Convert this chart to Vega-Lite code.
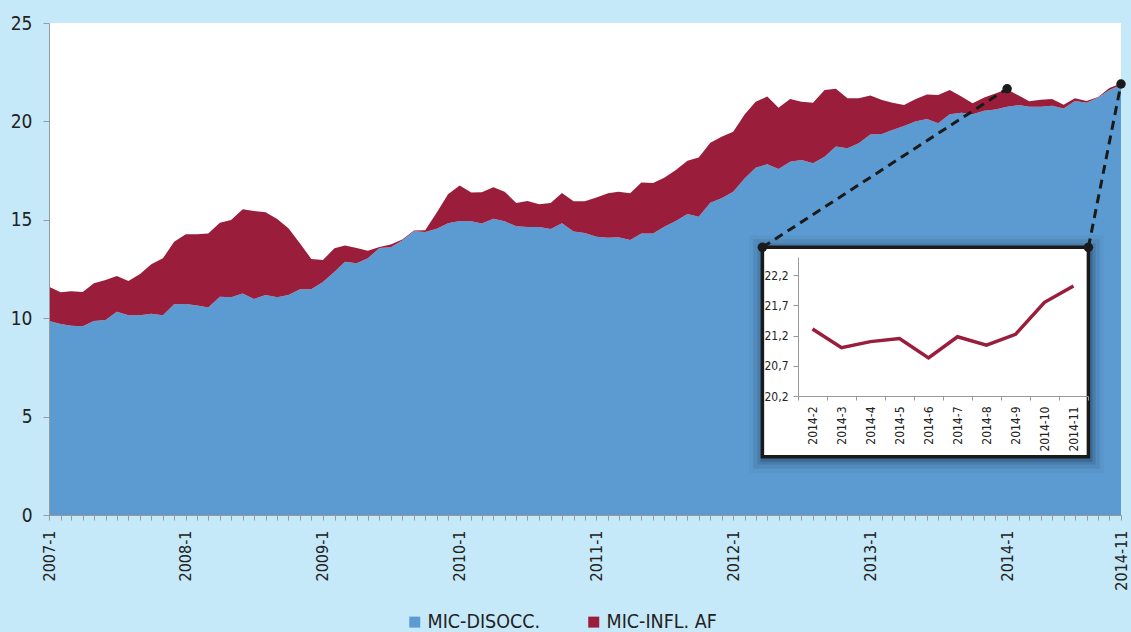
{
  "$schema": "https://vega.github.io/schema/vega-lite/v6.json",
  "width": 1072,
  "height": 492,
  "autosize": "none",
  "padding": {"left": 49, "top": 23, "right": 10, "bottom": 117},
  "background": "#c6e9f9",
  "config": {"view": {"fill": "#ffffff", "stroke": null}, "font": "'DejaVu Sans Condensed', 'Liberation Sans', sans-serif"},
  "layer": [
    {
      "data": {"values": [
        {"m":"2007-01-01","d":9.86,"f":1.74},{"m":"2007-02-01","d":9.7,"f":1.62},{"m":"2007-03-01","d":9.62,"f":1.75},{"m":"2007-04-01","d":9.59,"f":1.74},
        {"m":"2007-05-01","d":9.86,"f":1.91},{"m":"2007-06-01","d":9.91,"f":2.03},{"m":"2007-07-01","d":10.33,"f":1.81},{"m":"2007-08-01","d":10.15,"f":1.74},
        {"m":"2007-09-01","d":10.15,"f":2.1},{"m":"2007-10-01","d":10.23,"f":2.51},{"m":"2007-11-01","d":10.15,"f":2.89},{"m":"2007-12-01","d":10.71,"f":3.18},
        {"m":"2008-01-01","d":10.72,"f":3.54},{"m":"2008-02-01","d":10.65,"f":3.61},{"m":"2008-03-01","d":10.55,"f":3.76},{"m":"2008-04-01","d":11.09,"f":3.76},
        {"m":"2008-05-01","d":11.06,"f":3.93},{"m":"2008-06-01","d":11.26,"f":4.27},{"m":"2008-07-01","d":10.98,"f":4.47},{"m":"2008-08-01","d":11.18,"f":4.2},
        {"m":"2008-09-01","d":11.06,"f":3.98},{"m":"2008-10-01","d":11.18,"f":3.39},{"m":"2008-11-01","d":11.47,"f":2.33},{"m":"2008-12-01","d":11.47,"f":1.54},
        {"m":"2009-01-01","d":11.84,"f":1.12},{"m":"2009-02-01","d":12.36,"f":1.19},{"m":"2009-03-01","d":12.87,"f":0.83},{"m":"2009-04-01","d":12.79,"f":0.78},
        {"m":"2009-05-01","d":13.04,"f":0.39},{"m":"2009-06-01","d":13.57,"f":0.05},{"m":"2009-07-01","d":13.6,"f":0.15},{"m":"2009-08-01","d":13.95,"f":0.05},
        {"m":"2009-09-01","d":14.42,"f":0.03},{"m":"2009-10-01","d":14.38,"f":0.09},{"m":"2009-11-01","d":14.55,"f":0.82},{"m":"2009-12-01","d":14.82,"f":1.48},
        {"m":"2010-01-01","d":14.94,"f":1.8},{"m":"2010-02-01","d":14.93,"f":1.46},{"m":"2010-03-01","d":14.81,"f":1.59},{"m":"2010-04-01","d":15.05,"f":1.6},
        {"m":"2010-05-01","d":14.92,"f":1.51},{"m":"2010-06-01","d":14.67,"f":1.19},{"m":"2010-07-01","d":14.64,"f":1.32},{"m":"2010-08-01","d":14.63,"f":1.16},
        {"m":"2010-09-01","d":14.53,"f":1.32},{"m":"2010-10-01","d":14.82,"f":1.54},{"m":"2010-11-01","d":14.41,"f":1.53},{"m":"2010-12-01","d":14.33,"f":1.61},
        {"m":"2011-01-01","d":14.14,"f":1.99},{"m":"2011-02-01","d":14.09,"f":2.26},{"m":"2011-03-01","d":14.11,"f":2.32},{"m":"2011-04-01","d":13.97,"f":2.38},
        {"m":"2011-05-01","d":14.31,"f":2.58},{"m":"2011-06-01","d":14.3,"f":2.57},{"m":"2011-07-01","d":14.65,"f":2.49},{"m":"2011-08-01","d":14.94,"f":2.59},
        {"m":"2011-09-01","d":15.29,"f":2.71},{"m":"2011-10-01","d":15.16,"f":3.01},{"m":"2011-11-01","d":15.87,"f":3.05},{"m":"2011-12-01","d":16.09,"f":3.13},
        {"m":"2012-01-01","d":16.43,"f":3.05},{"m":"2012-02-01","d":17.11,"f":3.25},{"m":"2012-03-01","d":17.65,"f":3.35},{"m":"2012-04-01","d":17.82,"f":3.44},
        {"m":"2012-05-01","d":17.58,"f":3.11},{"m":"2012-06-01","d":17.95,"f":3.19},{"m":"2012-07-01","d":18.04,"f":2.96},{"m":"2012-08-01","d":17.87,"f":3.08},
        {"m":"2012-09-01","d":18.21,"f":3.39},{"m":"2012-10-01","d":18.72,"f":2.94},{"m":"2012-11-01","d":18.63,"f":2.54},{"m":"2012-12-01","d":18.89,"f":2.28},
        {"m":"2013-01-01","d":19.33,"f":1.99},{"m":"2013-02-01","d":19.36,"f":1.73},{"m":"2013-03-01","d":19.56,"f":1.39},{"m":"2013-04-01","d":19.77,"f":1.06},
        {"m":"2013-05-01","d":19.99,"f":1.13},{"m":"2013-06-01","d":20.12,"f":1.25},{"m":"2013-07-01","d":19.9,"f":1.44},{"m":"2013-08-01","d":20.36,"f":1.24},
        {"m":"2013-09-01","d":20.44,"f":0.82},{"m":"2013-10-01","d":20.36,"f":0.56},{"m":"2013-11-01","d":20.54,"f":0.67},{"m":"2013-12-01","d":20.61,"f":0.81},
        {"m":"2014-01-01","d":20.75,"f":0.89},{"m":"2014-02-01","d":20.83,"f":0.48},{"m":"2014-03-01","d":20.75,"f":0.27},{"m":"2014-04-01","d":20.75,"f":0.35},
        {"m":"2014-05-01","d":20.8,"f":0.34},{"m":"2014-06-01","d":20.66,"f":0.19},{"m":"2014-07-01","d":21.04,"f":0.13},{"m":"2014-08-01","d":20.95,"f":0.09},
        {"m":"2014-09-01","d":21.21,"f":0.03},{"m":"2014-10-01","d":21.6,"f":0.1},{"m":"2014-11-01","d":21.85,"f":0.08}
      ]},
      "transform": [{"fold": ["d", "f"], "as": ["s", "v"]}],
      "mark": {"type": "area", "interpolate": "linear"},
      "encoding": {
        "x": {"field": "m", "type": "temporal", "title": null,
          "scale": {"type": "utc", "nice": false, "domain": [{"year": 2007, "month": 1, "date": 1, "utc": true}, {"year": 2014, "month": 11, "date": 1, "utc": true}]},
          "axis": {"orient": "bottom", "tickCount": {"interval": "month", "step": 1},
            "labelExpr": "(utcmonth(datum.value)==0 || (utcyear(datum.value)==2014 && utcmonth(datum.value)==10)) ? utcFormat(datum.value, '%Y-%-m') : ''",
            "labelAngle": -90, "labelFontSize": 16, "labelColor": "#222222", "labelPadding": 10,
            "tickSize": 5, "tickColor": "#999999", "domainColor": "#999999",
            "labelOverlap": false, "labelFlush": false, "grid": false, "zindex": 1}},
        "y": {"field": "v", "type": "quantitative", "stack": "zero", "title": null,
          "scale": {"domain": [0, 25], "nice": false},
          "axis": {"orient": "left", "values": [0, 5, 10, 15, 20, 25], "labelFontSize": 19, "labelColor": "#222222",
            "labelPadding": 11, "tickSize": 6, "tickColor": "#999999", "domainColor": "#999999",
            "grid": false, "zindex": 1}},
        "color": {"field": "s", "type": "nominal",
          "scale": {"domain": ["d", "f"], "range": ["#5c9bd1", "#9a1d3b"]},
          "legend": {"orient": "none", "legendX": 356, "legendY": 589, "direction": "horizontal",
            "title": null, "symbolType": "square", "symbolSize": 121, "symbolStrokeWidth": 0,
            "labelFontSize": 19.5, "labelColor": "#222222", "labelOffset": 3, "columnPadding": 43,
            "padding": 0,
            "labelExpr": "datum.label == 'd' ? 'MIC-DISOCC.' : 'MIC-INFL. AF'"}},
        "order": {"field": "s", "sort": "ascending"}
      }
    },
    {
      "data": {"values": [{}]},
      "mark": {"type": "rule", "strokeDash": [9, 6], "strokeWidth": 3, "color": "#1a1a1a"},
      "encoding": {
        "x": {"datum": {"year": 2012, "month": 3, "date": 19, "utc": true}, "type": "temporal", "axis": null,
          "scale": {"type": "utc", "nice": false, "domain": [{"year": 2007, "month": 1, "date": 1, "utc": true}, {"year": 2014, "month": 11, "date": 1, "utc": true}]}},
        "y": {"datum": 13.6, "type": "quantitative", "axis": null, "scale": {"domain": [0, 25], "nice": false}},
        "x2": {"datum": {"year": 2014, "month": 1, "date": 1, "utc": true}},
        "y2": {"datum": 21.66}
      }
    },
    {
      "data": {"values": [{}]},
      "mark": {"type": "rule", "strokeDash": [9, 6], "strokeWidth": 3, "color": "#1a1a1a"},
      "encoding": {
        "x": {"datum": {"year": 2014, "month": 8, "date": 6, "utc": true}, "type": "temporal", "axis": null,
          "scale": {"type": "utc", "nice": false, "domain": [{"year": 2007, "month": 1, "date": 1, "utc": true}, {"year": 2014, "month": 11, "date": 1, "utc": true}]}},
        "y": {"datum": 13.6, "type": "quantitative", "axis": null, "scale": {"domain": [0, 25], "nice": false}},
        "x2": {"datum": {"year": 2014, "month": 11, "date": 1, "utc": true}},
        "y2": {"datum": 21.9}
      }
    },
    {
      "data": {"values": [{}]},
      "mark": {"type": "rect", "color": "#10203a", "opacity": 0.05},
      "encoding": {
        "x": {"datum": {"year": 2012, "month": 2, "date": 13, "utc": true}, "type": "temporal", "axis": null,
          "scale": {"type": "utc", "nice": false, "domain": [{"year": 2007, "month": 1, "date": 1, "utc": true}, {"year": 2014, "month": 11, "date": 1, "utc": true}]}},
        "x2": {"datum": {"year": 2014, "month": 9, "date": 15, "utc": true}},
        "y": {"datum": 14.21, "type": "quantitative", "axis": null, "scale": {"domain": [0, 25], "nice": false}},
        "y2": {"datum": 2.14}
      }
    },
    {
      "data": {"values": [{}]},
      "mark": {"type": "rect", "color": "#10203a", "opacity": 0.09},
      "encoding": {
        "x": {"datum": {"year": 2012, "month": 2, "date": 24, "utc": true}, "type": "temporal", "axis": null,
          "scale": {"type": "utc", "nice": false, "domain": [{"year": 2007, "month": 1, "date": 1, "utc": true}, {"year": 2014, "month": 11, "date": 1, "utc": true}]}},
        "x2": {"datum": {"year": 2014, "month": 9, "date": 5, "utc": true}},
        "y": {"datum": 14.01, "type": "quantitative", "axis": null, "scale": {"domain": [0, 25], "nice": false}},
        "y2": {"datum": 2.35}
      }
    },
    {
      "data": {"values": [{}]},
      "mark": {"type": "rect", "color": "#10203a", "opacity": 0.13},
      "encoding": {
        "x": {"datum": {"year": 2012, "month": 3, "date": 6, "utc": true}, "type": "temporal", "axis": null,
          "scale": {"type": "utc", "nice": false, "domain": [{"year": 2007, "month": 1, "date": 1, "utc": true}, {"year": 2014, "month": 11, "date": 1, "utc": true}]}},
        "x2": {"datum": {"year": 2014, "month": 8, "date": 25, "utc": true}},
        "y": {"datum": 13.81, "type": "quantitative", "axis": null, "scale": {"domain": [0, 25], "nice": false}},
        "y2": {"datum": 2.56}
      }
    },
    {
      "data": {"values": [{}]},
      "mark": {"type": "rect", "color": "#10203a", "opacity": 0.2},
      "encoding": {
        "x": {"datum": {"year": 2012, "month": 3, "date": 14, "utc": true}, "type": "temporal", "axis": null,
          "scale": {"type": "utc", "nice": false, "domain": [{"year": 2007, "month": 1, "date": 1, "utc": true}, {"year": 2014, "month": 11, "date": 1, "utc": true}]}},
        "x2": {"datum": {"year": 2014, "month": 8, "date": 17, "utc": true}},
        "y": {"datum": 13.65, "type": "quantitative", "axis": null, "scale": {"domain": [0, 25], "nice": false}},
        "y2": {"datum": 2.71}
      }
    },
    {
      "data": {"values": [{}]},
      "mark": {"type": "rect", "fill": "#ffffff", "stroke": "#1a1a1a", "strokeWidth": 3.5},
      "encoding": {
        "x": {"datum": {"year": 2012, "month": 3, "date": 19, "utc": true}, "type": "temporal", "axis": null,
          "scale": {"type": "utc", "nice": false, "domain": [{"year": 2007, "month": 1, "date": 1, "utc": true}, {"year": 2014, "month": 11, "date": 1, "utc": true}]}},
        "x2": {"datum": {"year": 2014, "month": 8, "date": 6, "utc": true}},
        "y": {"datum": 13.6, "type": "quantitative", "axis": null, "scale": {"domain": [0, 25], "nice": false}},
        "y2": {"datum": 2.96}
      }
    },
    {
      "data": {"values": [{}]},
      "mark": {"type": "point", "filled": true, "size": 90, "color": "#1a1a1a", "opacity": 1},
      "encoding": {
        "x": {"datum": {"year": 2012, "month": 3, "date": 19, "utc": true}, "type": "temporal", "axis": null,
          "scale": {"type": "utc", "nice": false, "domain": [{"year": 2007, "month": 1, "date": 1, "utc": true}, {"year": 2014, "month": 11, "date": 1, "utc": true}]}},
        "y": {"datum": 13.6, "type": "quantitative", "axis": null, "scale": {"domain": [0, 25], "nice": false}}
      }
    },
    {
      "data": {"values": [{}]},
      "mark": {"type": "point", "filled": true, "size": 90, "color": "#1a1a1a", "opacity": 1},
      "encoding": {
        "x": {"datum": {"year": 2014, "month": 8, "date": 6, "utc": true}, "type": "temporal", "axis": null,
          "scale": {"type": "utc", "nice": false, "domain": [{"year": 2007, "month": 1, "date": 1, "utc": true}, {"year": 2014, "month": 11, "date": 1, "utc": true}]}},
        "y": {"datum": 13.6, "type": "quantitative", "axis": null, "scale": {"domain": [0, 25], "nice": false}}
      }
    },
    {
      "data": {"values": [{}]},
      "mark": {"type": "point", "filled": true, "size": 90, "color": "#1a1a1a", "opacity": 1},
      "encoding": {
        "x": {"datum": {"year": 2014, "month": 1, "date": 1, "utc": true}, "type": "temporal", "axis": null,
          "scale": {"type": "utc", "nice": false, "domain": [{"year": 2007, "month": 1, "date": 1, "utc": true}, {"year": 2014, "month": 11, "date": 1, "utc": true}]}},
        "y": {"datum": 21.66, "type": "quantitative", "axis": null, "scale": {"domain": [0, 25], "nice": false}}
      }
    },
    {
      "data": {"values": [{}]},
      "mark": {"type": "point", "filled": true, "size": 90, "color": "#1a1a1a", "opacity": 1},
      "encoding": {
        "x": {"datum": {"year": 2014, "month": 11, "date": 1, "utc": true}, "type": "temporal", "axis": null,
          "scale": {"type": "utc", "nice": false, "domain": [{"year": 2007, "month": 1, "date": 1, "utc": true}, {"year": 2014, "month": 11, "date": 1, "utc": true}]}},
        "y": {"datum": 21.9, "type": "quantitative", "axis": null, "scale": {"domain": [0, 25], "nice": false}}
      }
    },
    {
      "data": {"values": [
        {"m": "2014-2", "v": 21.31}, {"m": "2014-3", "v": 21.0}, {"m": "2014-4", "v": 21.1},
        {"m": "2014-5", "v": 21.15}, {"m": "2014-6", "v": 20.83}, {"m": "2014-7", "v": 21.18},
        {"m": "2014-8", "v": 21.04}, {"m": "2014-9", "v": 21.22}, {"m": "2014-10", "v": 21.75},
        {"m": "2014-11", "v": 22.02}
      ]},
      "mark": {"type": "line", "color": "#9a1d3b", "strokeWidth": 3.5},
      "encoding": {
        "x": {"field": "m", "type": "ordinal", "sort": null, "bandPosition": 0.5, "title": null,
          "scale": {"type": "band", "range": [749, 1039], "paddingInner": 0, "paddingOuter": 0},
          "axis": {"orient": "bottom", "offset": -119, "zindex": 1, "labelAngle": -90, "labelFontSize": 12,
            "labelColor": "#222222", "labelPadding": 6, "tickSize": 4, "tickBand": "extent",
            "tickColor": "#999999", "domainColor": "#999999", "grid": false}},
        "y": {"field": "v", "type": "quantitative", "title": null,
          "scale": {"domain": [20.2, 22.5], "range": [373, 234], "nice": false, "zero": false},
          "axis": {"orient": "left", "offset": -749, "zindex": 1, "values": [20.2, 20.7, 21.2, 21.7, 22.2],
            "labelExpr": "replace(format(datum.value, '.1f'), '.', ',')", "labelFontSize": 12,
            "labelColor": "#222222", "labelPadding": 5, "tickSize": 5, "tickColor": "#999999",
            "domainColor": "#999999", "grid": false}}
      }
    }
  ],
  "resolve": {"scale": {"x": "independent", "y": "independent"}}
}
